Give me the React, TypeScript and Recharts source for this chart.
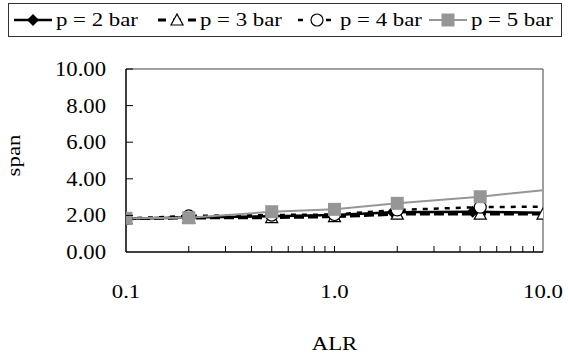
import React from 'react'
import { ComposedChart, Line, Scatter, XAxis, YAxis, ReferenceLine } from 'recharts'

// ALR positions of the markers
const alr = [0.1, 0.2, 0.5, 1, 2, 5]
const alr2 = [0.1, 0.2, 0.5, 1, 1.9, 4.6]
const alr3 = [0.1, 0.2, 0.5, 1, 2, 5, 10]

// span values
const span2 = [1.82, 1.88, 1.95, 2.02, 2.17, 2.2]
const span3 = [1.82, 1.86, 1.88, 1.93, 2.07, 2.07, 2.07]
const span4 = [1.83, 1.97, 2.02, 2.05, 2.3, 2.45]
const span5 = [1.84, 1.87, 2.2, 2.33, 2.66, 3.02]

// where the lines reach ALR = 10 (no marker drawn there)
const endAlr = 10
const endSpan2 = 2.15
const endSpan4 = 2.48
const endSpan5 = 3.38

const names = ['p = 2 bar', 'p = 3 bar', 'p = 4 bar', 'p = 5 bar']
const xTicks = [0.1, 0.2, 0.3, 0.4, 0.5, 0.6, 0.7, 0.8, 0.9, 1, 2, 3, 4, 5, 6, 7, 8, 9, 10]
const xLabels = [0.1, 1, 10]
const yTicks = [0, 2, 4, 6, 8, 10]

const GRAY = '#969696'
const FONT = '"Liberation Serif", serif'
const FS = 19
const STRETCH = 1.2

const toPts = (xs: number[], ys: number[]) => xs.map((x, i) => ({ x, y: ys[i] }))

type Shape = 'diamond' | 'triangle' | 'circle' | 'square'

function Marker({ kind, cx, cy }: { kind: Shape; cx: number; cy: number }) {
  if (kind === 'diamond')
    return <polygon points={`${cx},${cy - 6} ${cx + 6},${cy} ${cx},${cy + 6} ${cx - 6},${cy}`} fill="#000" />
  if (kind === 'triangle')
    return (
      <polygon
        points={`${cx},${cy - 6} ${cx + 6},${cy + 5} ${cx - 6},${cy + 5}`}
        fill="#fff"
        stroke="#000"
        strokeWidth={1.2}
      />
    )
  if (kind === 'circle') return <circle cx={cx} cy={cy} r={6} fill="#fff" stroke="#000" strokeWidth={1.2} />
  return <rect x={cx - 6.5} y={cy - 6.5} width={13} height={13} fill={GRAY} />
}

const series = [
  {
    name: names[0],
    marks: toPts(alr2, span2),
    line: toPts([...alr2, endAlr], [...span2, endSpan2]),
    color: '#000',
    width: 2.5,
    dash: undefined as string | undefined,
    legendDash: undefined as string | undefined,
    shape: 'diamond' as Shape,
    itemWidth: 144,
  },
  {
    name: names[1],
    marks: toPts(alr3, span3),
    line: toPts(alr3, span3),
    color: '#000',
    width: 3,
    dash: '10 4',
    legendDash: '8 7',
    shape: 'triangle' as Shape,
    itemWidth: 140,
  },
  {
    name: names[2],
    marks: toPts(alr, span4),
    line: toPts([...alr, endAlr], [...span4, endSpan4]),
    color: '#000',
    width: 2.5,
    dash: '5 6',
    legendDash: '5 9',
    shape: 'circle' as Shape,
    itemWidth: 131,
  },
  {
    name: names[3],
    marks: toPts(alr, span5),
    line: toPts([...alr, endAlr], [...span5, endSpan5]),
    color: GRAY,
    width: 2,
    dash: undefined as string | undefined,
    legendDash: undefined as string | undefined,
    shape: 'square' as Shape,
    itemWidth: 120,
  },
]

function StretchText({ x, y, anchor, size = FS, stretch = STRETCH, children }: any) {
  return (
    <text
      transform={`translate(${x} ${y}) scale(${stretch} 1)`}
      textAnchor={anchor}
      fontFamily={FONT}
      fontSize={size}
      fill="#000"
    >
      {children}
    </text>
  )
}

function XTick(props: any) {
  const { x, y, payload } = props
  const v = payload.value
  const major = xLabels.some((m) => Math.abs(m - v) < 1e-9)
  return (
    <g>
      {v !== 0.1 && v !== 10 && <line x1={x} x2={x} y1={y} y2={y - 6} stroke="#000" strokeWidth={1} />}
      {major && (
        <StretchText x={x} y={y + 46} anchor="middle">
          {v.toFixed(1)}
        </StretchText>
      )}
    </g>
  )
}

function YTick(props: any) {
  const { x, y, payload } = props
  return (
    <g>
      {payload.value !== 0 && <line x1={x} x2={x + 7} y1={y} y2={y} stroke="#000" strokeWidth={1} />}
      <StretchText x={x - 20} y={y + 7} anchor="end" size={21} stretch={1.08}>
        {payload.value.toFixed(2)}
      </StretchText>
    </g>
  )
}

function LegendIcon({ s }: { s: (typeof series)[number] }) {
  return (
    <svg width={40} height={16} style={{ display: 'block' }}>
      <line x1={1} x2={39} y1={8} y2={8} stroke={s.color} strokeWidth={s.width} strokeDasharray={s.legendDash} />
      <Marker kind={s.shape} cx={20} cy={8} />
    </svg>
  )
}

export default function App() {
  return (
    <div style={{ position: 'absolute', left: 0, top: 0, width: 568, height: 356, background: '#fff' }}>
      <div
        style={{
          position: 'absolute',
          left: 8,
          top: 3,
          width: 554,
          height: 34,
          border: '1.5px solid #333',
          boxSizing: 'border-box',
          display: 'flex',
          alignItems: 'center',
          paddingLeft: 4,
        }}
      >
        {series.map((s) => (
          <div key={s.name} style={{ display: 'flex', alignItems: 'center', width: s.itemWidth, flex: 'none' }}>
            <LegendIcon s={s} />
            <span
              style={{
                fontFamily: FONT,
                fontSize: FS,
                marginLeft: 3,
                display: 'inline-block',
                transform: `scaleX(${STRETCH})`,
                transformOrigin: 'left center',
                whiteSpace: 'nowrap',
              }}
            >
              {s.name}
            </span>
          </div>
        ))}
      </div>
      <ComposedChart width={568} height={356} margin={{ top: 69, right: 25, bottom: 0, left: 0 }}>
        <XAxis
          dataKey="x"
          type="number"
          scale="log"
          domain={[0.1, 10]}
          allowDataOverflow
          ticks={xTicks}
          interval={0}
          tickSize={0}
          tickMargin={0}
          tick={<XTick />}
          height={104}
          axisLine={{ stroke: '#000', strokeWidth: 1.5 }}
          label={{
            value: 'ALR',
            content: (p: any) => (
              <StretchText x={p.viewBox.x + p.viewBox.width / 2} y={p.viewBox.y + 98} anchor="middle">
                ALR
              </StretchText>
            ),
          }}
        />
        <YAxis
          dataKey="y"
          type="number"
          domain={[0, 10]}
          ticks={yTicks}
          interval={0}
          tickSize={0}
          tickMargin={0}
          tick={<YTick />}
          width={126}
          axisLine={{ stroke: '#000', strokeWidth: 1.5 }}
          label={{
            value: 'span',
            content: (p: any) => {
              const cx = p.viewBox.x + 20
              const cy = p.viewBox.y + p.viewBox.height / 2 - 5
              return (
                <text
                  transform={`translate(${cx} ${cy}) rotate(-90) scale(${STRETCH} 1)`}
                  textAnchor="middle"
                  fontFamily={FONT}
                  fontSize={FS}
                  fill="#000"
                >
                  span
                </text>
              )
            },
          }}
        />
        <ReferenceLine y={10} stroke="#808080" strokeWidth={1.5} ifOverflow="visible" />
        <ReferenceLine x={10} stroke="#808080" strokeWidth={1.5} ifOverflow="visible" />
        {series.map((s) => (
          <Line
            key={'l' + s.name}
            data={s.line}
            dataKey="y"
            type="linear"
            stroke={s.color}
            strokeWidth={s.width}
            strokeDasharray={s.dash}
            dot={false}
            activeDot={false}
            isAnimationActive={false}
            legendType="none"
          />
        ))}
        {series.map((s) => (
          <Scatter
            key={'s' + s.name}
            data={s.marks}
            dataKey="y"
            isAnimationActive={false}
            shape={(p: any) => <Marker kind={s.shape} cx={p.cx} cy={p.cy} />}
          />
        ))}
      </ComposedChart>
    </div>
  )
}
